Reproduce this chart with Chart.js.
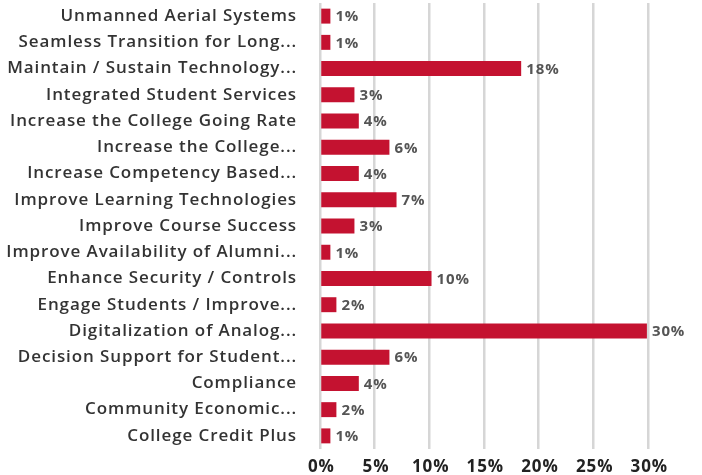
<!DOCTYPE html>
<html>
<head>
<meta charset="utf-8">
<script src="https://cdn.jsdelivr.net/npm/chart.js@4/dist/chart.umd.min.js"></script>
<style>
  html, body { margin: 0; padding: 0; background: #fff; }
  #wrap { width: 702px; height: 475px; }
</style>
</head>
<body>
<div id="wrap"><canvas id="projectChart"></canvas></div>
<script>
const categories = [
  "Unmanned Aerial Systems",
  "Seamless Transition for Long...",
  "Maintain / Sustain Technology...",
  "Integrated Student Services",
  "Increase the College Going Rate",
  "Increase the College...",
  "Increase Competency Based...",
  "Improve Learning Technologies",
  "Improve Course Success",
  "Improve Availability of Alumni...",
  "Enhance Security / Controls",
  "Engage Students / Improve...",
  "Digitalization of Analog...",
  "Decision Support for Student...",
  "Compliance",
  "Community Economic...",
  "College Credit Plus"
];

// percent of projects
const shares = [0.95, 0.95, 18.4, 3.15, 3.55, 6.35, 3.55, 7.0, 3.15, 0.95, 10.2, 1.5, 29.9, 6.35, 3.55, 1.5, 0.95];

const xTicks = [0, 5, 10, 15, 20, 25, 30];

const barColor = "#c41230";
const fontFamily = "'Open Sans', sans-serif";

// the original font is wider, so space the letters out a bit
const wideText = {
  id: "wideText",
  beforeDraw(chart) {
    chart.ctx.letterSpacing = "0.9px";
  }
};

// draws the "18%" style labels just past each bar end
const valueLabels = {
  id: "valueLabels",
  afterDatasetsDraw(chart) {
    const ctx = chart.ctx;
    const meta = chart.getDatasetMeta(0);
    ctx.save();
    ctx.font = "bold 15px " + fontFamily;
    ctx.fillStyle = "#555555";
    ctx.textBaseline = "middle";
    ctx.textAlign = "left";
    meta.data.forEach((bar, i) => {
      ctx.fillText(Math.round(shares[i]) + "%", bar.x + 5, bar.y + 1);
    });
    ctx.restore();
  }
};

const chart = new Chart(document.getElementById("projectChart"), {
  type: "bar",
  data: {
    labels: categories,
    datasets: [{
      data: shares,
      backgroundColor: barColor,
      borderWidth: 0,
      barPercentage: 0.57,
      categoryPercentage: 1
    }]
  },
  options: {
    indexAxis: "y",
    responsive: true,
    maintainAspectRatio: false,
    animation: false,
    layout: { padding: { top: 3, right: 54, left: 0, bottom: 0 } },
    plugins: {
      legend: { display: false },
      tooltip: { enabled: false }
    },
    scales: {
      x: {
        min: 0,
        max: 30,
        afterBuildTicks: scale => {
          scale.ticks = xTicks.map(v => ({ value: v }));
        },
        afterFit: scale => { scale.height = 26; },
        grid: { color: "#d6d6d6", lineWidth: 2.5, drawTicks: false },
        border: { display: false },
        ticks: {
          padding: 8,
          color: "#222222",
          font: { family: fontFamily, size: 17, weight: "bold" },
          callback: v => "\u200a" + v + "%"
        }
      },
      y: {
        // fixed label column; drop the extra top/bottom room the tick padding adds
        afterFit: scale => {
          scale.width = 320;
          scale.paddingTop = 0;
          scale.paddingBottom = 0;
        },
        grid: { display: false, drawTicks: false },
        border: { display: false },
        ticks: {
          padding: 23,
          color: "#333333",
          font: { family: fontFamily, size: 17, weight: "600" }
        }
      }
    }
  },
  plugins: [wideText, valueLabels]
});
</script>
</body>
</html>
